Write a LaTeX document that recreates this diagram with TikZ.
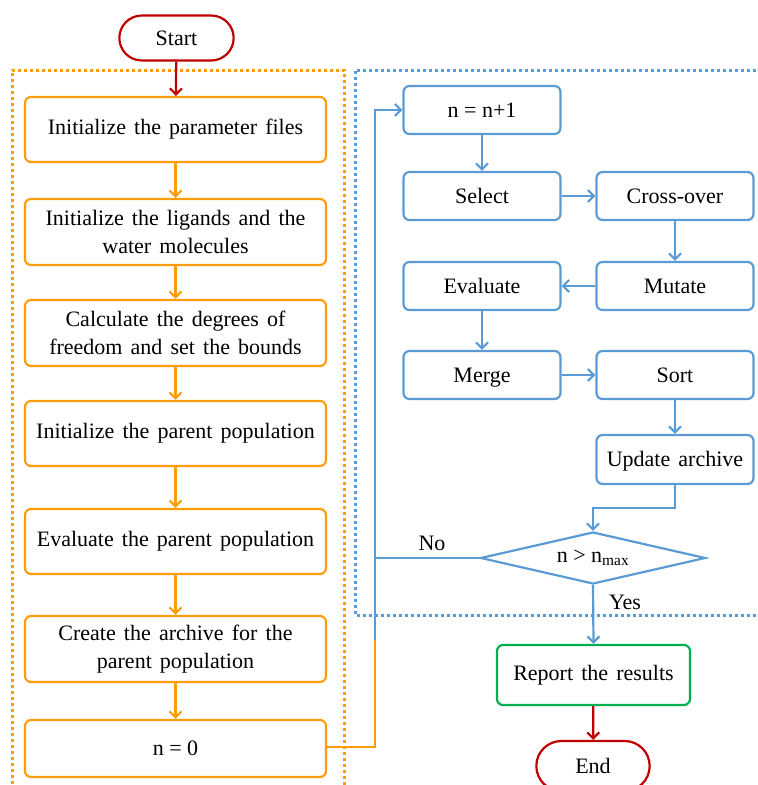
\documentclass[tikz,border=0pt]{standalone}
\usepackage{fontspec}
\setmainfont{Liberation Serif}
\usetikzlibrary{arrows.meta,shapes.geometric,shapes.misc}
\definecolor{myorange}{HTML}{FF9C0A}
\definecolor{myblue}{HTML}{5B9BD5}
\definecolor{myred}{HTML}{C00000}
\definecolor{mygreen}{HTML}{00B050}
\newcommand\myboxfont{\fontsize{22}{28}\selectfont\spaceskip=0.37em plus 0.1em\relax}
\newcommand\myplainfont{\fontsize{22}{28}\selectfont}
\tikzset{
  box/.style={draw, rounded corners=6pt, line width=2.2pt, fill=white, align=center, inner sep=2pt, font=\myboxfont},
  obox/.style={box, draw=myorange, minimum width=301pt},
  bbox/.style={box, draw=myblue, minimum width=157pt, minimum height=48pt, text height=14pt, text depth=0pt},
  term/.style={draw=myred, rounded rectangle, line width=2.2pt, align=center, font=\myplainfont},
  arr/.style={line width=2.2pt, -{Straight Barb[length=6pt,width=12pt,line width=2.2pt]}},
  ln/.style={line width=2.2pt},
  lbl/.style={font=\myplainfont},
}
\begin{document}
\begin{tikzpicture}[x=1pt,y=-1pt]
\useasboundingbox (0,0) rectangle (758,785);
% dotted group frames
\draw[myorange, line width=3pt, dash pattern=on 3pt off 3pt] (12,790) -- (12,70) -- (344,70) -- (344,790);
\draw[myblue, line width=3pt, dash pattern=on 3pt off 3pt] (762,70) -- (355,70) -- (355,615) -- (762,615);

\node[term, minimum width=121pt, minimum height=45pt] (start) at (176.5,38) {Start};

\node[obox, minimum height=65pt] (p1) at (175.5,129.5) {Initialize the parameter files};
\node[obox, minimum height=66pt] (p2) at (175.5,232) {Initialize the ligands and the\\water molecules};
\node[obox, minimum height=66pt] (p3) at (175.5,333) {Calculate the degrees of\\freedom and set the bounds};
\node[obox, minimum height=65pt] (p4) at (175.5,433.5) {Initialize the parent population};
\node[obox, minimum height=65pt] (p5) at (175.5,541.5) {Evaluate the parent population};
\node[obox, minimum height=66pt] (p6) at (175.5,649) {Create the archive for the\\parent population};
\node[obox, minimum height=57pt, font=\myplainfont] (p7) at (175.5,748.5) {n = 0};

\node[bbox, font=\myplainfont] (inc) at (482,110) {n = n+1};
\node[bbox] (sel) at (482,196) {Select};
\node[bbox] (cro) at (675,196) {Cross-over};
\node[bbox] (eva) at (482,286) {Evaluate};
\node[bbox] (mut) at (675,286) {Mutate};
\node[bbox] (mer) at (482,375) {Merge};
\node[bbox] (sor) at (675,375) {Sort};
\node[bbox, minimum height=49pt] (upd) at (675,459.5) {Update archive};
\node[draw=myblue, line width=2.2pt, diamond, aspect=4.33, minimum width=225pt, minimum height=52pt, inner sep=0pt, lbl] (dec) at (593,558) {n > n\textsubscript{max}};
\node[box, draw=mygreen, minimum width=193pt, minimum height=60pt] (rep) at (593.5,675) {Report the results};
\node[term, minimum width=120pt, minimum height=50pt] (end) at (593,766) {End};

\coordinate (bend) at (593,508);
\coordinate (vl) at (375,558);
\coordinate (vtop) at (375,110);
\coordinate (vbot) at (375,747);
\coordinate (vmid) at (375,640);

% red arrows
\draw[arr, myred] (start) -- (p1);
\draw[arr, myred] (rep) -- (end);
% orange arrows
\draw[arr, myorange] (p1) -- (p2);
\draw[arr, myorange] (p2) -- (p3);
\draw[arr, myorange] (p3) -- (p4);
\draw[arr, myorange] (p4) -- (p5);
\draw[arr, myorange] (p5) -- (p6);
\draw[arr, myorange] (p6) -- (p7);
\draw[ln, myorange] (p7.east |- vbot) -- (vbot) -- (vmid);
% blue arrows
\draw[ln, myblue] (vmid) -- (vl);
\draw[arr, myblue] (vl) -- (vtop) -- (inc.west);
\draw[arr, myblue] (inc) -- (sel);
\draw[arr, myblue] (sel) -- (cro);
\draw[arr, myblue] (cro) -- (mut);
\draw[arr, myblue] (mut) -- (eva);
\draw[arr, myblue] (eva) -- (mer);
\draw[arr, myblue] (mer) -- (sor);
\draw[arr, myblue] (sor) -- (upd);
\draw[arr, myblue] (upd.south) |- (bend) -- (dec.north);
\draw[ln, myblue] (dec.west) -- (vl);
\draw[arr, myblue] (dec.south) -- (rep.north);

\node[lbl] (no) at (432,543) {No};
\node[lbl] (yes) at (625,602) {Yes};
\end{tikzpicture}
\end{document}
